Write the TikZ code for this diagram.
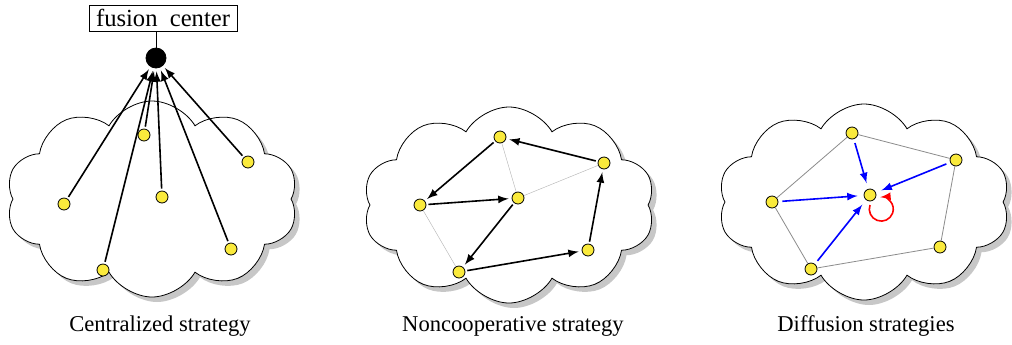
\documentclass[tikz,border=0pt]{standalone}
\usepackage{fontspec}
\setmainfont{Liberation Serif}
\usetikzlibrary{shapes.symbols,shadows}
\definecolor{nodeyellow}{RGB}{250,234,60}
\tikzset{
  sensor/.style={circle,draw,fill=nodeyellow,inner sep=0pt,minimum size=6pt},
  region/.style={cloud,cloud puffs=10,cloud puff arc=120,aspect=1.5,draw,fill=white,
    minimum width=146pt,minimum height=98pt,
    drop shadow={shadow xshift=2.5pt,shadow yshift=-2.5pt,fill=black!22,opacity=1}},
  link/.style={thick,-latex,shorten <=1pt,shorten >=1.5pt},
  nblink/.style={very thin,black!30},
  difflink/.style={thick,blue,-latex,shorten <=2pt,shorten >=3pt},
  selfloop/.style={thick,red,-latex},
  caption/.style={font=\fontsize{11.3}{13}\selectfont}
}
\begin{document}
\begin{tikzpicture}[x=0.5pt,y=-0.5pt,font=\fontsize{11.3}{13}\selectfont]
        \useasboundingbox(0,0)rectangle(1012,344);
        % centralized
        \node[region](c1)at(152,199){};
        \node[draw,inner sep=1.5pt,minimum height=13pt,minimum width=74pt,font=\fontsize{12.3}{14}\selectfont](fc)at(163,18){fusion\ \ center};
        \node[circle,fill=black,draw,inner sep=0pt,minimum size=10pt](hub)at(156,58){};
        \draw(hub)--(hub|-fc.south);
        \foreach \n/\x/\y in {1/64/204,2/103/270,3/144/135,4/162/197,5/248/162,6/231/249}
        {\node[sensor](s\n)at(\x,\y){};
         \draw[link](s\n)--(hub);}
        \node[caption](cap1)at(160,326){Centralized strategy};
        % noncooperative
        \node[region](c2)at(509,205){};
        \foreach \n/\x/\y in {a/500/137,b/604/163,c/420/205,d/518/198,e/459/272,f/588/250}
        \node[sensor](n\n)at(\x,\y){};
        \draw[nblink](na)--(nd)--(nb);
        \draw[nblink](nc)--(ne);
        \foreach \u/\v in {b/a,a/c,c/d,d/e,e/f,f/b}
        \draw[link](n\u)--(n\v);
        \node[caption](cap2)at(513,326){Noncooperative strategy};
        % diffusion
        \node[region](c3)at(864,202){};
        \foreach \n/\x/\y in {a/852/133,b/956/160,c/772/202,k/870/195,d/811/269,e/940/247}
        \node[sensor](d\n)at(\x,\y){};
        \draw[thin,black!45](da)--(db)--(de)--(dd)--(dc)--(da);
        \foreach \u in {a,b,c,d}
        \draw[difflink](d\u)--(dk);
        \draw[selfloop]([shift={(0,10)}]dk.center)arc[start angle=200,end angle=-95,radius=12];
        \node[caption](cap3)at(866,326){Diffusion strategies};
\end{tikzpicture}
\end{document}
